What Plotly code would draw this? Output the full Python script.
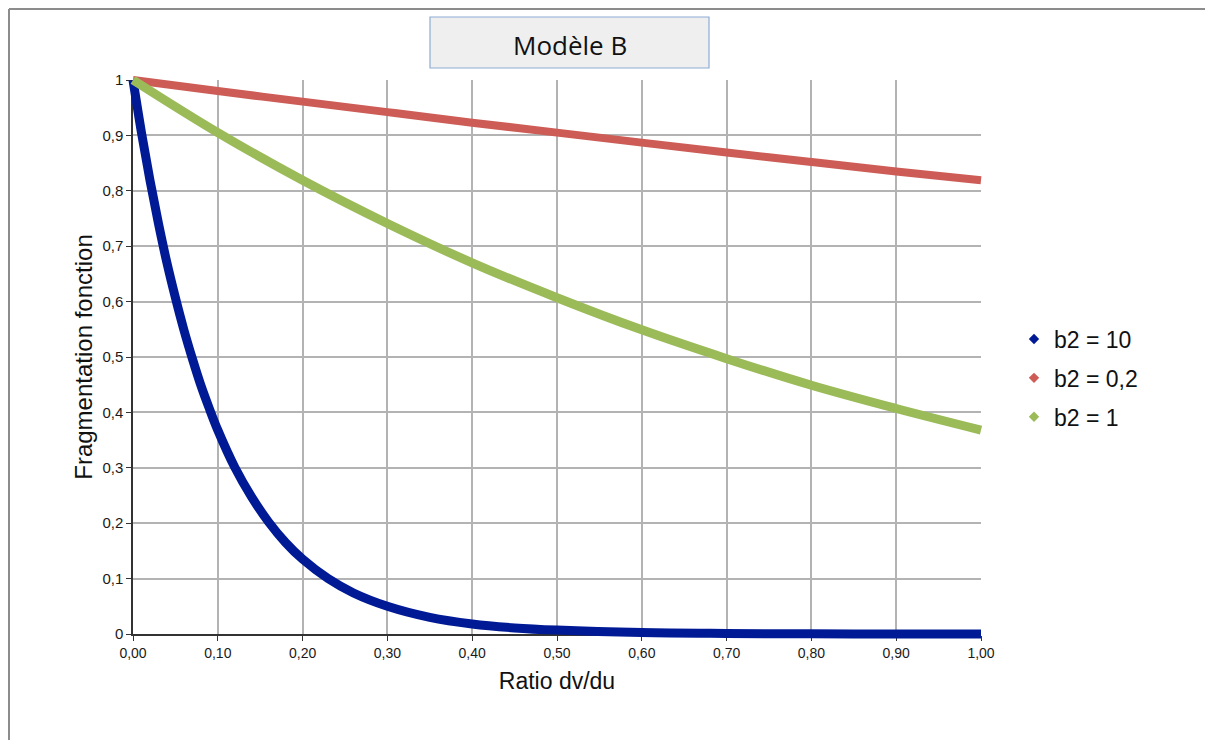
import plotly.graph_objects as go

# Values
x_blue = [0.00, 0.01, 0.02, 0.03, 0.04, 0.05, 0.06, 0.07, 0.08, 0.09, 0.10, 0.12, 0.14, 0.16, 0.18, 0.20,
          0.23, 0.26, 0.30, 0.35, 0.40, 0.45, 0.50, 0.60, 0.70, 0.80, 0.90, 1.00]
y_blue = [1.000, 0.905, 0.819, 0.741, 0.670, 0.607, 0.549, 0.497, 0.449, 0.407, 0.368, 0.301, 0.247, 0.202,
          0.165, 0.135, 0.100, 0.074, 0.050, 0.030, 0.018, 0.011, 0.007, 0.0025, 0.001, 0.0003, 0.0001, 0.00005]

x_std = [0.0, 0.1, 0.2, 0.3, 0.4, 0.5, 0.6, 0.7, 0.8, 0.9, 1.0]
y_red = [1.000, 0.980, 0.961, 0.942, 0.923, 0.905, 0.887, 0.869, 0.852, 0.835, 0.819]
y_green = [1.000, 0.905, 0.819, 0.741, 0.670, 0.607, 0.549, 0.497, 0.449, 0.407, 0.368]

names = ["b2 = 10", "b2 = 0,2", "b2 = 1"]
colors = ["#001a96", "#cd5c56", "#9bbb59"]
widths = [9, 8, 9]
series = [(x_blue, y_blue), (x_std, y_red), (x_std, y_green)]

x_ticks = [0.0, 0.1, 0.2, 0.3, 0.4, 0.5, 0.6, 0.7, 0.8, 0.9, 1.0]
y_ticks = [0.0, 0.1, 0.2, 0.3, 0.4, 0.5, 0.6, 0.7, 0.8, 0.9, 1.0]

W, H = 1213, 740
# plot area (grid) in figure pixels
PX0, PX1, PY0, PY1 = 125, 973, 72, 626
PAD = 12
L, R, T, B = PX0 - PAD, W - (PX1 + PAD), PY0 - PAD, H - (PY1 + PAD)
fw, fh = W - L - R, H - T - B
pw, ph = PX1 - PX0, PY1 - PY0

def px(x):
    return (x - L) / fw

def py(y):
    return (H - B - y) / fh

fig = go.Figure()
# legend entries (on the gridded axes, so that subplot is drawn)
for (xs, ys), name, col, w in zip(series, names, colors, widths):
    fig.add_trace(go.Scatter(x=[None], y=[None], mode="markers",
                             marker=dict(symbol="diamond", size=8, color=col),
                             name=name, legendgroup=name, showlegend=True,
                             xaxis="x", yaxis="y"))
# curves (on an overlay subplot slightly larger so thick lines are not clipped)
for (xs, ys), name, col, w in zip(series, names, colors, widths):
    fig.add_trace(go.Scatter(x=xs, y=ys, mode="lines", line=dict(color=col, width=w, shape="spline"),
                             name=name, legendgroup=name, showlegend=False, hoverinfo="skip",
                             xaxis="x2", yaxis="y2"))

shapes = [
    dict(type="line", xref="paper", yref="paper", x0=px(1), x1=px(W + 5), y0=py(1), y1=py(1),
         line=dict(color="#8c8c8c", width=2)),
    dict(type="line", xref="paper", yref="paper", x0=px(1), x1=px(1), y0=py(1), y1=py(H + 5),
         line=dict(color="#8c8c8c", width=2)),
    dict(type="rect", xref="paper", yref="paper", x0=px(422), x1=px(701), y0=py(60), y1=py(9),
         fillcolor="#efefef", line=dict(color="#8eacd6", width=1.2)),
]

dx = PAD / pw
dy = PAD / ph

fig.update_layout(
    width=W, height=H,
    margin=dict(l=L, r=R, t=T, b=B),
    paper_bgcolor="white", plot_bgcolor="rgba(0,0,0,0)",
    separators=", ",
    font=dict(family="Liberation Sans, Arial, sans-serif", color="#222222"),
    shapes=shapes,
    annotations=[dict(text="Modèle B", xref="paper", yref="paper", x=px(562), y=py(37),
                      showarrow=False, font=dict(size=26, family="Open Sans, Liberation Sans, sans-serif",
                                                  color="#111111"),
                      xanchor="center", yanchor="middle")],
    legend=dict(x=px(1006), y=py(370), xanchor="left", yanchor="middle",
                font=dict(size=23, color="#111111"), bgcolor="rgba(0,0,0,0)",
                tracegroupgap=6),
    xaxis=dict(domain=[PAD / fw, 1 - PAD / fw], anchor="y", range=[0, 1], tickvals=x_ticks, tickformat=".2f",
               showgrid=True, gridcolor="#b3b3b3", gridwidth=1.5,
               showline=True, linecolor="#333333", linewidth=1.5,
               ticks="outside", ticklen=5, tickcolor="#333333",
               tickfont=dict(size=14, color="#1a1a1a"), zeroline=False,
               title=dict(text="Ratio dv/du", font=dict(size=23, color="#111111"), standoff=13)),
    yaxis=dict(domain=[PAD / fh, 1 - PAD / fh], anchor="x", range=[0, 1], tickvals=y_ticks,
               showgrid=True, gridcolor="#b3b3b3", gridwidth=1.5,
               showline=True, linecolor="#333333", linewidth=1.5,
               ticks="outside", ticklen=5, tickcolor="#333333",
               tickfont=dict(size=15, color="#1a1a1a"), zeroline=False,
               title=dict(text="Fragmentation fonction", font=dict(size=24, color="#111111"), standoff=3)),
    xaxis2=dict(domain=[0, 1], anchor="y2", range=[-dx, 1 + dx], visible=False),
    yaxis2=dict(domain=[0, 1], anchor="x2", range=[-dy, 1 + dy], visible=False),
)

fig.write_html("out.html")
